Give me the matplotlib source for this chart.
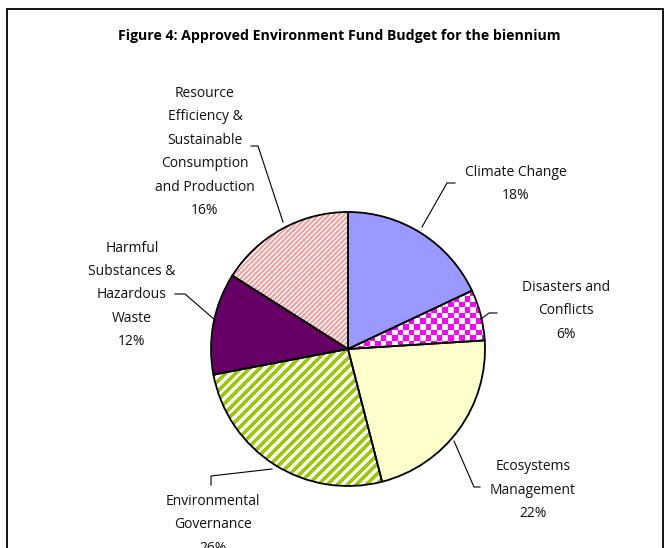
import numpy as np
import matplotlib.pyplot as plt
from matplotlib.colors import ListedColormap
from matplotlib.patches import Wedge, Rectangle

plt.rcParams['font.family'] = ['Open Sans', 'DejaVu Sans']

# budget shares, clockwise from 12 o'clock
labels = ['Climate Change', 'Disasters and\nConflicts', 'Ecosystems\nManagement',
          'Environmental\nGovernance', 'Harmful\nSubstances &\nHazardous\nWaste',
          'Resource\nEfficiency &\nSustainable\nConsumption\nand Production']
shares = [18, 6, 22, 26, 12, 16]
fills = ['#9999FF', 'white', '#FFFFCC', 'white', '#660066', 'white']

W, H = 669, 548
fig = plt.figure(figsize=(W / 100, H / 100), dpi=100)
ax = fig.add_axes([0, 0, 1, 1])


def Y(y):
    # page y (from top) -> axes y
    return H - y


cx, cy, r = 348, Y(349), 137
wedges, _ = ax.pie(shares, colors=fills, startangle=90, counterclock=False,
                   center=(cx, cy), radius=r, frame=True,
                   wedgeprops=dict(linewidth=0))


def copy_wedge(w, **kw):
    nw = Wedge(w.center, w.r, w.theta1, w.theta2, **kw)
    ax.add_patch(nw)
    return nw


# pixel grid for the pattern fills
px, py = np.meshgrid(np.arange(W) + 0.5, np.arange(H) + 0.5)   # py measured from top


def texture(mask, color, w):
    img = ax.imshow(mask.astype(float), cmap=ListedColormap(['white', color]),
                    extent=(0, W, H, 0), origin='upper', interpolation='nearest',
                    vmin=0, vmax=1, zorder=2, aspect='auto')
    img.set_clip_path(copy_wedge(w, fc='none', lw=0, zorder=1))


# diagonal stripes (top-left to bottom-right)
green = ((px - py) % 9.7) < 5.0
pink = ((px - py) % 5.0) < 2.2
# checkerboard
cell = 5.6
checks = ((px // cell + py // cell) % 2) == 1

texture(checks, '#FF00FF', wedges[1])
texture(green, '#99CC00', wedges[3])
texture(pink, '#FF9F9F', wedges[5])

# black outlines on top
for w in wedges:
    copy_wedge(w, fc='none', ec='black', lw=1.3, zorder=4)

ax.set_xlim(0, W)
ax.set_ylim(0, H)
ax.axis('off')

# outer frame of the chart area (runs off the bottom of the page)
ax.add_patch(Rectangle((7, Y(560)), 656, 551, fill=False, lw=1.3, ec='black', clip_on=False))

ax.text(339, Y(36), 'Figure 4: Approved Environment Fund Budget for the biennium',
        ha='center', va='center', fontsize=10.2, fontweight='bold')

# data labels with leader lines
label_xy = [(516, 184), (566, 311), (533, 490), (213, 525), (132, 295), (205, 152)]
leaders = [
    [(455, 183), (447, 183), (422, 227)],
    [(497, 313), (489, 313), (481, 319)],
    [(480, 487), (474, 487), (454, 441)],
    [(211, 485), (211, 476), (272, 469)],
    [(175, 294), (185, 294), (215, 320)],
    [(251, 146), (258, 146), (283, 222)],
]
for name, v, (lx, ly), pts in zip(labels, shares, label_xy, leaders):
    ax.text(lx, Y(ly), f'{name}\n{v}%', ha='center', va='center',
            fontsize=10, linespacing=1.77, color='#111111')
    xs, ys = zip(*pts)
    ax.plot(xs, [Y(y) for y in ys], color='black', lw=0.8, zorder=5)

fig.savefig('out.png', dpi=100)
